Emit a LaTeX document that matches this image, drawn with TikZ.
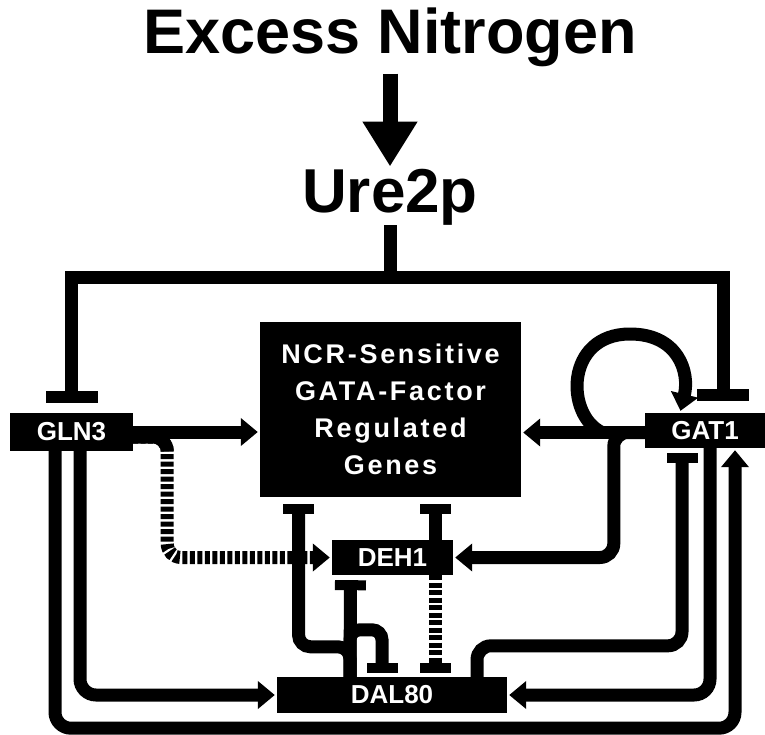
\documentclass[tikz,border=0pt]{standalone}
\usepackage{fontspec}
\setmainfont{Liberation Sans}
\usetikzlibrary{arrows.meta}

\begin{document}
\begin{tikzpicture}[x=1pt,y=-1pt,
  gene/.style={fill=black,text=white,inner sep=0pt,font=\fontsize{26}{30}\selectfont\bfseries},
  link/.style={line width=13pt},
  act/.style={link,shorten >=2pt,-{Triangle[length=17pt,width=27pt]}},
  inh/.style={link,{Rectangle[length=12pt,width=52pt]}-{Rectangle[length=12pt,width=52pt]}},
  blk/.style={link,-{Rectangle[length=10pt,width=31pt]}},
  hatch/.style={dash pattern=on 5pt off 2.5pt}]
  \useasboundingbox (0,0) rectangle (765,734);

  %titles
  \node[font=\fontsize{63}{70}\selectfont\bfseries,anchor=base,inner sep=0pt] (nit) at (390,53) {Excess Nitrogen};
  \node[font=\fontsize{62}{70}\selectfont\bfseries,anchor=base,inner sep=0pt] (ure) at (390,212) {Ure2p};
  \draw[link,line width=15pt,-{Triangle[length=45pt,width=52pt]}] ([yshift=-7pt]nit.south) -- ([yshift=2pt]ure.north);

  %gene boxes
  \node[gene,minimum width=123pt,minimum height=38pt] (gln3) at (71.5,432) {GLN3};
  \node[gene,minimum width=120pt,minimum height=35pt] (gat1) at (705,430.5) {GAT1};
  \node[gene,minimum width=121pt,minimum height=35pt] (deh1) at (392.5,557.5) {DEH1};
  \node[gene,minimum width=230pt,minimum height=36pt] (dal80) at (392,695) {DAL80};
  \node[gene,minimum width=261pt,minimum height=175pt,align=center,
    font=\fontsize{27}{37}\selectfont\bfseries\addfontfeature{LetterSpace=10}] (ncr) at (390.5,409.5)
    {NCR-Sensitive\\GATA-Factor\\Regulated\\Genes};

  %Ure2p blocks both factors
  \coordinate (jn) at (390,277);
  \draw[link] (ure.south) -- (jn);
  \draw[inh] ([yshift=10pt]gln3.north) |- (jn) -| ([xshift=18pt,yshift=12pt]gat1.north);

  %GLN3 outputs
  \draw[act] (gln3.east) -- (gln3.east -| ncr.west);
  \draw[act,hatch,rounded corners=14pt] ([yshift=-5pt]gln3.east) -- ++(34,0) |- (deh1.west);
  \draw[link,rounded corners=14pt] ([yshift=-5pt]gln3.east) -- ++(34,0) -- ++(0,12);
  \draw[act,rounded corners=16pt] ([xshift=8.5pt]gln3.south) |- (dal80.west);
  \draw[act,rounded corners=16pt] ([xshift=-16.5pt]gln3.south) -- ++(0,277) -| ([xshift=30pt]gat1.south);

  %GAT1 outputs
  \coordinate (lp) at (602,432.5);
  \draw[act] ([yshift=-2pt]gat1.west) -- ([yshift=-2pt]gat1.west -| ncr.east);
  \draw[act] (lp) .. controls (565,415) and (565,334) .. (630,334)
    .. controls (678,334) and (690,372) .. ([xshift=-25pt]gat1.north);
  \draw[act,rounded corners=14pt] ([yshift=-2pt]gat1.west) -- ++(-31,0) |- (deh1.east);
  \draw[act,rounded corners=16pt] ([xshift=5pt]gat1.south) |- (dal80.east);

  %DAL80 outputs
  \draw[blk,rounded corners=14pt] ([xshift=85pt]dal80.north) -- ++(0,-31) -| ([xshift=-23pt,yshift=-5pt]gat1.south);
  \draw[blk,rounded corners=12pt] ([xshift=-42pt]dal80.north) -- ++(0,-30) -| ([xshift=-92pt,yshift=-7pt]ncr.south);
  \draw[blk] ([xshift=-42pt]dal80.north) -- ([xshift=-42pt,yshift=-5pt]deh1.south);
  \draw[blk,rounded corners=10pt] ([xshift=-42pt]dal80.north) -- ++(0,-47) -| ([xshift=-10pt,yshift=4pt]dal80.north);

  %DEH1 outputs
  \draw[blk] ([xshift=42.5pt]deh1.north) -- ([xshift=44.5pt,yshift=-7pt]ncr.south);
  \draw[blk,hatch] ([xshift=42.5pt]deh1.south) -- ([xshift=43pt,yshift=4pt]dal80.north);

\end{tikzpicture}
\end{document}
